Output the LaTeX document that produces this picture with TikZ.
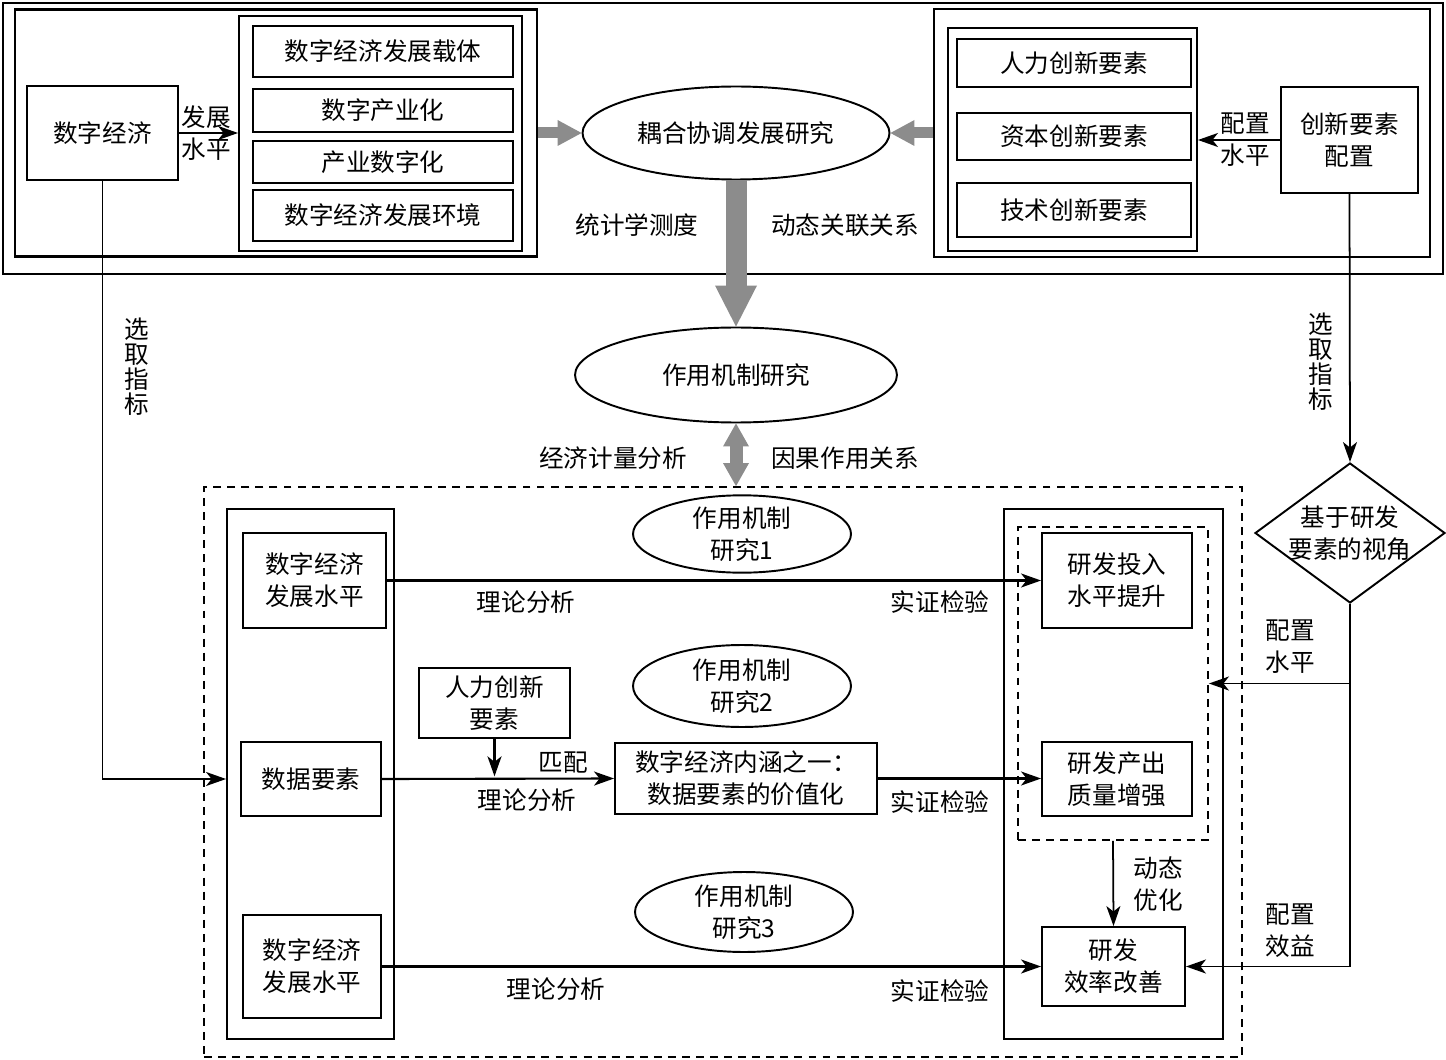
\documentclass[tikz,border=0pt]{standalone}
\usepackage{fontspec}
\setmainfont{Noto Sans CJK SC}
\usepackage{tikz}
\usetikzlibrary{shapes.geometric}
\usetikzlibrary{arrows.meta}
\definecolor{arrgray}{RGB}{140,140,140}
\tikzset{box/.style={draw, line width=1.1pt, inner sep=0pt, align=center},
ell/.style={draw, ellipse, line width=1.1pt, inner sep=0pt, align=center},
outerbox/.style={draw, line width=1.3pt, inner sep=0pt},
dashbox/.style={draw, line width=1.1pt, dash pattern=on 4.5pt off 3.5pt, inner sep=0pt},
conn/.style={line width=1.2pt, -{Stealth[length=0.4cm,width=0.28cm,inset=0.11cm]}},
txt/.style={inner sep=0pt, align=center},
vtxt/.style={inner sep=0pt, align=center, font=\fontsize{14}{14.2}\selectfont},
gray arrow/.style={draw=arrgray, line width=#1}}

\begin{document}
\begin{tikzpicture}[x=0.02cm, y=-0.02cm, font=\fontsize{14}{18.2}\selectfont]
\useasboundingbox (0,0) rectangle (1446,1060);

% top part
\node[outerbox, minimum width=28.8cm, minimum height=5.42cm] (outer) at (723,138.5) {};
\node[outerbox, minimum width=10.44cm, minimum height=4.94cm] (frameL) at (276,133) {};
\node[outerbox, minimum width=9.92cm, minimum height=4.96cm] (frameR) at (1182,133) {};

% digital economy
\node[box, minimum width=3.02cm, minimum height=1.88cm] (eco) at (102.5,133) {数字经济};
\node[box, minimum width=5.66cm, minimum height=4.7cm] (grpL) at (380.5,133.5) {};
\foreach \n/\y/\h/\t in {carrier/51.5/1.02cm/数字经济发展载体, digind/110.5/0.86cm/数字产业化,
    inddig/162/0.84cm/产业数字化, envir/215.5/1.02cm/数字经济发展环境}
  \node[box, minimum width=5.2cm, minimum height=\h] (\n) at (383,\y) {\t};
\draw[conn] (eco.east) -- (eco.east -| grpL.west);
\node[txt] (devLbl) at (206,133) {发展\\水平};

% innovation factors
\node[box, minimum width=4.98cm, minimum height=4.46cm] (grpR) at (1072.5,139.5) {};
\foreach \n/\y/\h/\t in {human/63/0.96cm/人力创新要素, capital/136.5/0.94cm/资本创新要素,
    tech/210/1.08cm/技术创新要素}
  \node[box, minimum width=4.68cm, minimum height=\h] (\n) at (1074,\y) {\t};
\node[box, minimum width=2.74cm, minimum height=2.12cm] (cfg) at (1349.5,140) {创新要素\\配置};
\draw[conn] (cfg.west) -- (cfg.west -| grpR.east);
\node[txt] (cfgLbl) at (1245,140) {配置\\水平};

% middle
\node[ell, minimum width=6.14cm, minimum height=1.86cm] (couple) at (736,133) {耦合协调发展研究};
\node[ell, minimum width=6.44cm, minimum height=1.9cm] (mech) at (736,375) {作用机制研究};
\node[txt] (statLbl) at (637,225) {统计学测度};
\node[txt] (dynLbl) at (845,225) {动态关联关系};
\node[txt] (ecmLbl) at (613,458) {经济计量分析};
\node[txt] (causLbl) at (845,458) {因果作用关系};

% bottom part
\node[dashbox, minimum width=20.76cm, minimum height=11.4cm] (dframe) at (723,772) {};
\node[box, minimum width=3.34cm, minimum height=10.6cm] (leftCol) at (310.5,774) {};
\node[box, minimum width=4.38cm, minimum height=10.6cm] (rightCol) at (1113.5,774) {};
\node[dashbox, minimum width=3.8cm, minimum height=6.26cm] (dIn) at (1113,683.5) {};

\node[box, minimum width=2.86cm, minimum height=1.9cm] (lvlA) at (314.5,580.5) {数字经济\\发展水平};
\node[box, minimum width=2.8cm, minimum height=1.48cm] (data) at (311,779) {数据要素};
\node[box, minimum width=2.76cm, minimum height=2.06cm] (lvlB) at (312,966.5) {数字经济\\发展水平};

\node[box, minimum width=3cm, minimum height=1.9cm] (rdIn) at (1117,580.5) {研发投入\\水平提升};
\node[box, minimum width=3cm, minimum height=1.48cm] (rdOut) at (1117,779) {研发产出\\质量增强};
\node[box, minimum width=2.86cm, minimum height=1.58cm] (rdEff) at (1113.5,966.5) {研发\\效率改善};

\node[box, minimum width=3.02cm, minimum height=1.4cm] (hum) at (494.5,703) {人力创新\\要素};
\node[box, minimum width=5.24cm, minimum height=1.42cm] (value) at (746,778.5) {数字经济内涵之一：\\数据要素的价值化};

\node[ell, minimum width=4.36cm, minimum height=1.44cm] (mechA) at (742,534) {作用机制\\研究1};
\node[ell, minimum width=4.36cm, minimum height=1.64cm] (mechB) at (742,686) {作用机制\\研究2};
\node[ell, minimum width=4.36cm, minimum height=1.6cm] (mechC) at (744,912) {作用机制\\研究3};

\node[draw, diamond, line width=1.1pt, inner sep=0pt, minimum width=3.8cm, minimum height=2.8cm,
  label={[txt]center:基于研发\\要素的视角}] (view) at (1350,533) {};

% gray arrows
\draw[gray arrow=0.22cm, -{Triangle[length=0.48cm,width=0.52cm,line width=0pt]}] (frameL.east) -- (couple.west);
\draw[gray arrow=0.22cm, -{Triangle[length=0.48cm,width=0.52cm,line width=0pt]}] (frameR.west) -- (couple.east);
\draw[gray arrow=0.42cm, -{Triangle[length=0.82cm,width=0.84cm,line width=0pt]}] (couple.south) -- (mech.north);
\draw[gray arrow=0.26cm, {Triangle[length=0.46cm,width=0.52cm,line width=0pt]}-{Triangle[length=0.46cm,width=0.52cm,line width=0pt]}]
  (mech.south) -- (mech.south |- dframe.north);

% indicator lines
\draw[conn, line width=1pt] (eco.south) |- (leftCol.west |- data);
\node[vtxt] (selL) at (137,367) {选\\取\\指\\标};
\draw[conn, line width=1pt] (cfg.south) -- (view.north);
\node[vtxt] (selR) at (1321,362) {选\\取\\指\\标};
\draw[conn, line width=1pt] (view.south) |- (rdEff.east);
\draw[conn, line width=1pt] (view.south |- dIn.east) -- (dIn.east);
\node[txt] (lvlLbl) at (1290,647) {配置\\水平};
\node[txt] (benLbl) at (1290,931) {配置\\效益};

% mechanism rows
\draw[conn] (lvlA.east) -- (lvlA.east -| rdIn.west);
\draw[conn] (data.east) -- (value.west);
\draw[conn, shorten >=1.5pt] (hum.south) -- (hum.south |- data.east);
\draw[conn] (value.east) -- (value.east -| rdOut.west);
\draw[conn] (lvlB.east) -- (lvlB.east -| rdEff.west);
\draw[conn, line width=1pt] (dIn.south) -- (rdEff.north);
\node[txt] (optLbl) at (1158,884) {动态\\优化};

%labels
\node[txt] (thA) at (526,602) {理论分析};
\node[txt] (emA) at (940,602) {实证检验};
\node[txt] (match) at (563,763) {匹配};
\node[txt] (thB) at (527,800) {理论分析};
\node[txt] (emB) at (940,802) {实证检验};
\node[txt] (thC) at (556,989) {理论分析};
\node[txt] (emC) at (940,991) {实证检验};

\end{tikzpicture}
\end{document}
